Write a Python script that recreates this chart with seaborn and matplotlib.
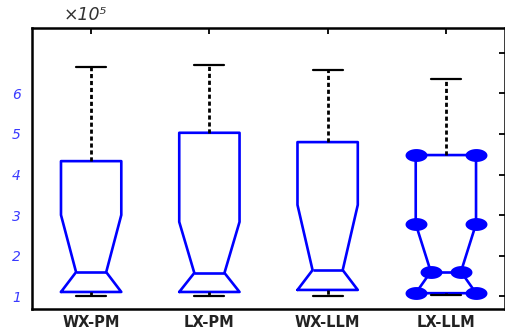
import numpy as np
import pandas as pd
import seaborn as sns
import matplotlib.pyplot as plt

# box statistics, values in units of 1e5
groups = ["WX-PM", "LX-PM", "WX-LLM", "LX-LLM"]
whisker_lo = [1.00, 1.00, 1.00, 1.02]
box_lo = [1.10, 1.10, 1.15, 1.07]
medians = [1.59, 1.57, 1.64, 1.60]
notch_hi = [3.00, 2.83, 3.25, 2.78]
box_hi = [4.33, 5.03, 4.80, 4.48]
whisker_hi = [6.65, 6.70, 6.58, 6.35]

ytick_vals = [1, 2, 3, 4, 5, 6, 7]
ytick_labels = ["1", "2", "3", "4", "5", "6", ""]
marked_group = "LX-LLM"   # the one with the blobs drawn on the corners

sns.set_theme(style="white")
plt.rcParams["font.family"] = ["DejaVu Sans"]

fig = plt.figure(figsize=(5.05, 3.28), dpi=100)
ax = fig.add_axes([0.0634, 0.058, 0.9366, 0.857])

stats = []
for i, g in enumerate(groups):
    stats.append(dict(label=g, med=medians[i], q1=box_lo[i], q3=box_hi[i],
                      whislo=whisker_lo[i], whishi=whisker_hi[i],
                      cilo=box_lo[i], cihi=notch_hi[i], fliers=[]))

pos = np.arange(len(groups))
width = 0.51
ax.bxp(stats, positions=pos, widths=width, shownotches=True, showfliers=False,
       manage_ticks=False,
       boxprops=dict(color="blue", lw=1.9),
       medianprops=dict(color="blue", lw=1.9),
       whiskerprops=dict(color="black", lw=2, ls=(0, (1.5, 1))),
       capprops=dict(color="black", lw=1.6))

# blobs on the corners of the last box
k = groups.index(marked_group)
p = pos[k]
blobs = pd.DataFrame({
    "x": [p - width/2, p + width/2, p - width/2, p + width/2,
          p - width/4, p + width/4, p - width/2, p + width/2],
    "y": [box_hi[k], box_hi[k], notch_hi[k], notch_hi[k],
          medians[k], medians[k], box_lo[k], box_lo[k]],
})
t = np.linspace(0, 2*np.pi, 40)
ellipse = list(zip(1.7*np.cos(t), np.sin(t)))
sns.scatterplot(data=blobs, x="x", y="y", marker=ellipse, s=250, color="blue",
                edgecolor="blue", linewidth=0, ax=ax, zorder=5, legend=False)

ax.set_xlim(-0.5, len(groups) - 0.5)
ax.set_ylim(0.68, 7.62)
ax.set_xticks(pos)
ax.set_xticklabels(groups, fontsize=10.5, fontweight="bold", color="#222222")
ax.set_yticks(ytick_vals)
ax.set_yticklabels(ytick_labels, fontsize=10, color="#3a3aff", style="italic")
ax.set_xlabel("")
ax.set_ylabel("")
ax.tick_params(axis="both", direction="in", top=True, right=True,
               length=4, width=1.3, color="black")
ax.tick_params(axis="x", pad=4)
ax.tick_params(axis="y", pad=8)
for s in ax.spines.values():
    s.set_color("black")
    s.set_linewidth(1.8)

fig.text(0.125, 0.94, "×10⁵", fontsize=12.5, style="italic", color="#333333")

fig.savefig("out.png", dpi=100)
